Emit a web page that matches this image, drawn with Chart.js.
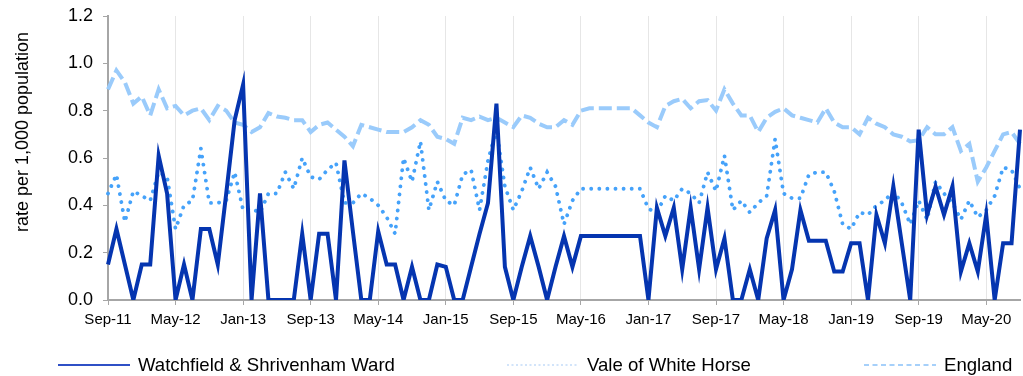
<!DOCTYPE html>
<html>
<head>
<meta charset="utf-8">
<script src="https://cdn.jsdelivr.net/npm/chart.js@4/dist/chart.umd.min.js"></script>
<style>
  html, body { margin: 0; padding: 0; background: #fff; }
  canvas { display: block; }
</style>
</head>
<body>
<canvas id="chart" width="1023" height="376"></canvas>
<script>
// monthly rates, Sep-11 to Sep-20
const monthNames = ['Jan', 'Feb', 'Mar', 'Apr', 'May', 'Jun', 'Jul', 'Aug', 'Sep', 'Oct', 'Nov', 'Dec'];
const tickLabels = ['Sep-11', 'May-12', 'Jan-13', 'Sep-13', 'May-14', 'Jan-15', 'Sep-15',
                    'May-16', 'Jan-17', 'Sep-17', 'May-18', 'Jan-19', 'Sep-19', 'May-20'];

const ward = [
  0.15, 0.30, 0.15, 0, 0.15, 0.15, 0.61, 0.45, 0, 0.15, 0, 0.30, 0.30, 0.15, 0.45, 0.76,
  0.91, 0, 0.45, 0, 0, 0, 0, 0.28, 0, 0.28, 0.28, 0, 0.59, 0.29, 0, 0,
  0.29, 0.15, 0.15, 0, 0.14, 0, 0, 0.15, 0.14, 0, 0, 0.14, 0.28, 0.41, 0.83, 0.14,
  0, 0.14, 0.27, 0.14, 0, 0.14, 0.27, 0.14, 0.27, 0.27, 0.27, 0.27, 0.27, 0.27, 0.27, 0.27,
  0, 0.39, 0.27, 0.39, 0.13, 0.39, 0.13, 0.39, 0.13, 0.26, 0, 0, 0.13, 0, 0.26, 0.38,
  0, 0.13, 0.38, 0.25, 0.25, 0.25, 0.12, 0.12, 0.24, 0.24, 0, 0.36, 0.24, 0.48, 0.24, 0,
  0.72, 0.36, 0.48, 0.36, 0.48, 0.12, 0.24, 0.12, 0.36, 0, 0.24, 0.24, 0.72
];

const vale = [
  0.45, 0.53, 0.33, 0.46, 0.44, 0.42, 0.54, 0.52, 0.30, 0.40, 0.42, 0.64, 0.41, 0.41, 0.42, 0.54,
  0.38, 0.385, 0.37, 0.45, 0.45, 0.54, 0.47, 0.60, 0.52, 0.51, 0.55, 0.58, 0.41, 0.41, 0.45, 0.43,
  0.40, 0.35, 0.28, 0.60, 0.50, 0.67, 0.38, 0.50, 0.42, 0.40, 0.53, 0.55, 0.38, 0.59, 0.72, 0.48,
  0.38, 0.46, 0.56, 0.47, 0.54, 0.48, 0.32, 0.42, 0.47, 0.47, 0.47, 0.47, 0.47, 0.47, 0.47, 0.47,
  0.385, 0.37, 0.44, 0.42, 0.47, 0.45, 0.41, 0.54, 0.46, 0.61, 0.38, 0.42, 0.37, 0.41, 0.44, 0.68,
  0.45, 0.43, 0.43, 0.53, 0.54, 0.54, 0.46, 0.32, 0.30, 0.37, 0.36, 0.40, 0.42, 0.46, 0.41, 0.32,
  0.42, 0.34, 0.50, 0.45, 0.41, 0.34, 0.42, 0.35, 0.38, 0.44, 0.56, 0.55, 0.47
];

const england = [
  0.89, 0.97, 0.92, 0.83, 0.86, 0.78, 0.89, 0.81, 0.82, 0.78, 0.80, 0.81, 0.76, 0.82, 0.80, 0.75,
  0.74, 0.71, 0.73, 0.79, 0.775, 0.77, 0.76, 0.76, 0.71, 0.74, 0.75, 0.72, 0.69, 0.65, 0.74, 0.73,
  0.72, 0.71, 0.71, 0.71, 0.73, 0.76, 0.74, 0.69, 0.68, 0.66, 0.77, 0.76, 0.775, 0.76, 0.77, 0.75,
  0.73, 0.78, 0.77, 0.745, 0.73, 0.73, 0.76, 0.74, 0.80, 0.81, 0.81, 0.81, 0.81, 0.81, 0.81, 0.78,
  0.75, 0.73, 0.82, 0.84, 0.85, 0.81, 0.84, 0.845, 0.80, 0.89, 0.83, 0.78, 0.78, 0.71, 0.77, 0.795,
  0.81, 0.78, 0.77, 0.76, 0.75, 0.81, 0.75, 0.73, 0.73, 0.70, 0.77, 0.745, 0.73, 0.70, 0.69, 0.67,
  0.675, 0.73, 0.70, 0.70, 0.73, 0.63, 0.66, 0.50, 0.56, 0.63, 0.70, 0.71, 0.66
];

const axisTitle = 'rate per 1,000 population';
const fontFamily = '"Liberation Sans", Arial, sans-serif';

// month labels Sep-11 ... Sep-20
const months = [];
for (let y = 2011, m = 8; months.length < ward.length; m++) {
  if (m === 12) { m = 0; y++; }
  months.push(monthNames[m] + '-' + String(y).slice(2));
}

const legendItems = [
  { text: 'Watchfield & Shrivenham Ward', x: 58, color: '#2f50c6', dash: [] },
  { text: 'Vale of White Horse', x: 507, color: '#d2e4fa', dash: [2, 2.5] },
  { text: 'England', x: 864, color: '#a6d0fa', dash: [5, 3.5] }
];

// axis title and the spread-out legend under the chart
const extras = {
  id: 'extras',
  afterDraw(chart) {
    const ctx = chart.ctx;
    ctx.save();
    ctx.fillStyle = '#000';
    ctx.textBaseline = 'middle';

    ctx.save();
    ctx.font = '18px ' + fontFamily;
    ctx.translate(23, 132);
    ctx.rotate(-Math.PI / 2);
    ctx.textAlign = 'center';
    ctx.fillText(axisTitle, 0, 0);
    ctx.restore();

    const ly = 365;
    ctx.font = '18.6px ' + fontFamily;
    legendItems.forEach(item => {
      ctx.beginPath();
      ctx.strokeStyle = item.color;
      ctx.lineWidth = 2;
      ctx.setLineDash(item.dash);
      ctx.moveTo(item.x, ly);
      ctx.lineTo(item.x + 72, ly);
      ctx.stroke();
      ctx.setLineDash([]);
      ctx.textAlign = 'left';
      ctx.fillText(item.text, item.x + 80, ly + 1);
    });
    ctx.restore();
  }
};

new Chart(document.getElementById('chart'), {
  type: 'line',
  data: {
    labels: months,
    datasets: [
      {
        label: 'Watchfield & Shrivenham Ward',
        data: ward,
        borderColor: '#0535b0',
        borderWidth: 4,
        pointRadius: 0,
        tension: 0
      },
      {
        label: 'Vale of White Horse',
        data: vale,
        borderColor: '#45a2fa',
        borderWidth: 3.8,
        borderDash: [0.1, 8],
        borderCapStyle: 'round',
        pointRadius: 0,
        tension: 0
      },
      {
        label: 'England',
        data: england,
        borderColor: '#9acbfb',
        borderWidth: 4,
        borderDash: [13, 5],
        pointRadius: 0,
        tension: 0
      }
    ]
  },
  options: {
    responsive: false,
    animation: false,
    events: [],
    devicePixelRatio: 1,
    layout: { padding: { top: 16, right: 3, bottom: 0, left: 0 } },
    plugins: { legend: { display: false }, tooltip: { enabled: false } },
    scales: {
      x: {
        type: 'category',
        offset: false,
        afterFit(scale) { scale.height = 76; },
        border: { color: '#a6a6a6', width: 2 },
        grid: { color: '#e6e6e6', lineWidth: 1, tickColor: '#a6a6a6', tickLength: 5 },
        ticks: {
          autoSkip: false,
          maxRotation: 0,
          padding: 6,
          color: '#000',
          font: { family: fontFamily, size: 15 },
          callback(val, idx) {
            const lab = this.getLabelForValue(val);
            return tickLabels.includes(lab) ? lab : null;
          }
        }
      },
      y: {
        min: 0,
        max: 1.2,
        afterFit(scale) {
          scale.width = 108;
          scale.paddingTop = 0;
          scale.paddingBottom = 0;
        },
        border: { color: '#a6a6a6', width: 2 },
        grid: { drawOnChartArea: false, color: '#a6a6a6', tickLength: 5 },
        ticks: {
          stepSize: 0.2,
          padding: 10,
          color: '#000',
          font: { family: fontFamily, size: 18 },
          callback: v => v.toFixed(1)
        }
      }
    }
  },
  plugins: [extras]
});
</script>
</body>
</html>
